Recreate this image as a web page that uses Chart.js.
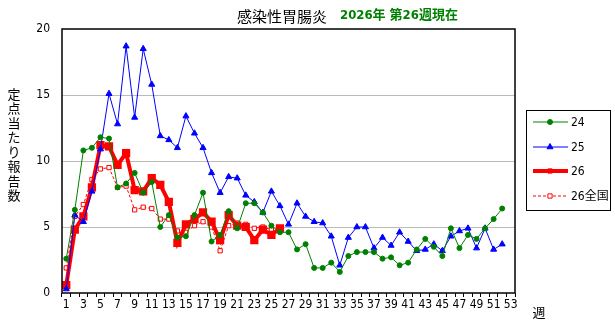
<!DOCTYPE html>
<html>
<head>
<meta charset="utf-8">
<script src="https://cdn.jsdelivr.net/npm/chart.js"></script>
<style>
  body { margin: 0; background: #fff; }
  #wrap { width: 615px; height: 325px; position: relative; }
</style>
</head>
<body>
<div id="wrap"><canvas id="chart"></canvas></div>
<script>
// 週 1..53
const weeks = Array.from({length: 53}, (_, i) => String(i + 1));

const y24 = [2.6, 6.3, 10.8, 11.0, 11.8, 11.7, 8.0, 8.3, 9.1, 7.6, 8.4, 5.0, 5.9, 4.2, 4.3, 5.9, 7.6, 3.9,
  4.4, 6.2, 4.9, 6.8, 6.8, 6.1, 5.1, 4.6, 4.6, 3.3, 3.7, 1.9, 1.9, 2.3, 1.6, 2.8, 3.1, 3.1,
  3.1, 2.6, 2.7, 2.1, 2.3, 3.3, 4.1, 3.5, 2.8, 4.9, 3.4, 4.4, 4.1, 4.9, 5.6, 6.4, null];
const y25 = [0.3, 5.9, 5.4, 7.7, 10.9, 15.1, 12.8, 18.7, 13.3, 18.5, 15.8, 11.9, 11.6, 11.0, 13.4, 12.1, 11.0, 9.1,
  7.6, 8.8, 8.7, 7.4, 6.9, 6.1, 7.7, 6.6, 5.2, 6.8, 5.8, 5.4, 5.3, 4.3, 2.1, 4.2, 5.0, 5.0,
  3.4, 4.2, 3.6, 4.6, 3.9, 3.2, 3.3, 3.7, 3.2, 4.3, 4.7, 4.9, 3.4, 4.9, 3.3, 3.7, null];
const y26 = [0.6, 4.8, 5.8, 8.0, 11.2, 11.1, 9.7, 10.6, 7.8, 7.7, 8.7, 8.2, 6.9, 3.8, 5.2, 5.6, 6.1, 5.4,
  4.0, 5.9, 5.1, 5.0, 4.0, 4.8, 4.4, 4.9];
const y26zenkoku = [1.9, 5.8, 6.7, 8.6, 9.4, 9.5, 8.0, 8.1, 6.3, 6.5, 6.4, 5.6, 5.6, 4.7, 4.6, 5.1, 5.4, 5.0,
  3.2, 5.1, 5.3, 5.2, 4.9, 5.0, 4.8];

const seriesNames = ['24', '25', '26', '26全国'];
const yTicks = [0, 5, 10, 15, 20];

const FONT = "'Liberation Sans Narrow', 'DejaVu Sans Condensed', 'Noto Sans CJK JP', sans-serif";
const JFONT = "'Noto Sans CJK JP', sans-serif";

// 枠、タイトル、凡例、軸タイトル
const decor = {
  id: 'decor',
  afterDraw(chart) {
    const c = chart.ctx;
    const a = chart.chartArea;
    c.save();
    c.strokeStyle = '#000';
    c.lineWidth = 1.5;
    c.strokeRect(a.left, a.top, a.right - a.left, a.bottom - a.top);

    c.fillStyle = '#000';
    c.font = '15px ' + JFONT;
    c.textAlign = 'center';
    c.textBaseline = 'middle';
    c.fillText('感染性胃腸炎', 282, 16);

    c.fillStyle = '#008000';
    c.font = 'bold 13px ' + FONT;
    c.textAlign = 'left';
    c.fillText('2026年 第26週現在', 340, 16);

    // 縦書き
    c.fillStyle = '#000';
    c.font = '13px ' + JFONT;
    c.textAlign = 'center';
    const vt = '定点当たり報告数';
    for (let i = 0; i < vt.length; i++) {
      c.fillText(vt[i], 14, 94 + i * 14.5);
    }

    c.font = '13px ' + JFONT;
    c.fillText('週', 539, 312);

    // 凡例
    c.strokeStyle = '#000';
    c.lineWidth = 1;
    c.strokeRect(526.5, 110.5, 84, 100);
    const ys = [122, 147, 171, 196];
    chart.data.datasets.forEach((ds, i) => {
      const y = ys[i];
      c.save();
      c.strokeStyle = ds.borderColor;
      c.lineWidth = ds.borderWidth;
      if (ds.borderDash) c.setLineDash(ds.borderDash);
      c.beginPath();
      c.moveTo(533, y);
      c.lineTo(568, y);
      c.stroke();
      c.restore();
      c.save();
      c.fillStyle = ds.pointBackgroundColor;
      c.strokeStyle = ds.pointBorderColor;
      c.lineWidth = 1;
      Chart.helpers.drawPoint(c, {
        pointStyle: ds.pointStyle, radius: ds.pointRadius, rotation: 0, borderWidth: 1
      }, 550, y);
      c.restore();
      c.fillStyle = '#000';
      c.font = '12px ' + FONT;
      c.textAlign = 'left';
      c.fillText(ds.label, 571, y + 1);
    });
    c.restore();
  }
};

new Chart(document.getElementById('chart'), {
  type: 'line',
  data: {
    labels: weeks,
    datasets: [
      { label: seriesNames[0], data: y24, borderColor: '#008000', borderWidth: 1,
        pointStyle: 'circle', pointRadius: 2.5, pointBackgroundColor: '#008000', pointBorderColor: '#008000' },
      { label: seriesNames[1], data: y25, borderColor: '#0000FF', borderWidth: 1,
        pointStyle: 'triangle', pointRadius: 3.5, pointBackgroundColor: '#0000FF', pointBorderColor: '#0000FF' },
      { label: seriesNames[2], data: y26, borderColor: '#FF0000', borderWidth: 4,
        pointStyle: 'rect', pointRadius: 3, pointBackgroundColor: '#FF0000', pointBorderColor: '#FF0000' },
      { label: seriesNames[3], data: y26zenkoku, borderColor: '#FF0000', borderWidth: 1, borderDash: [3, 2],
        pointStyle: 'rect', pointRadius: 3, pointBackgroundColor: '#FFFFFF', pointBorderColor: '#FF0000' }
    ]
  },
  plugins: [decor],
  options: {
    responsive: true,
    maintainAspectRatio: false,
    animation: false,
    layout: { padding: { left: 32, right: 100, top: 29, bottom: 6 } },
    plugins: { legend: { display: false }, tooltip: { enabled: false } },
    scales: {
      x: {
        offset: true,
        grid: { offset: true, drawOnChartArea: false, color: '#000', tickLength: 4, tickWidth: 1 },
        border: { display: false },
        ticks: {
          autoSkip: false, maxRotation: 0, padding: 1,
          color: '#000', font: { family: FONT, size: 12 },
          callback: (v, i) => (i % 2 === 0 ? weeks[i] : '')
        },
        afterFit: s => { s.height = 26; }
      },
      y: {
        min: 0, max: 20,
        afterBuildTicks: s => { s.ticks = yTicks.map(v => ({ value: v })); },
        grid: {
          drawTicks: false,
          color: ctx => (ctx.tick && ctx.tick.value > 0 && ctx.tick.value < 20 ? '#BBBBBB' : 'rgba(0,0,0,0)')
        },
        border: { display: false },
        ticks: { padding: 12, color: '#000', font: { family: FONT, size: 12 } },
        afterFit: s => { s.width = 30; }
      }
    }
  }
});
</script>
</body>
</html>
